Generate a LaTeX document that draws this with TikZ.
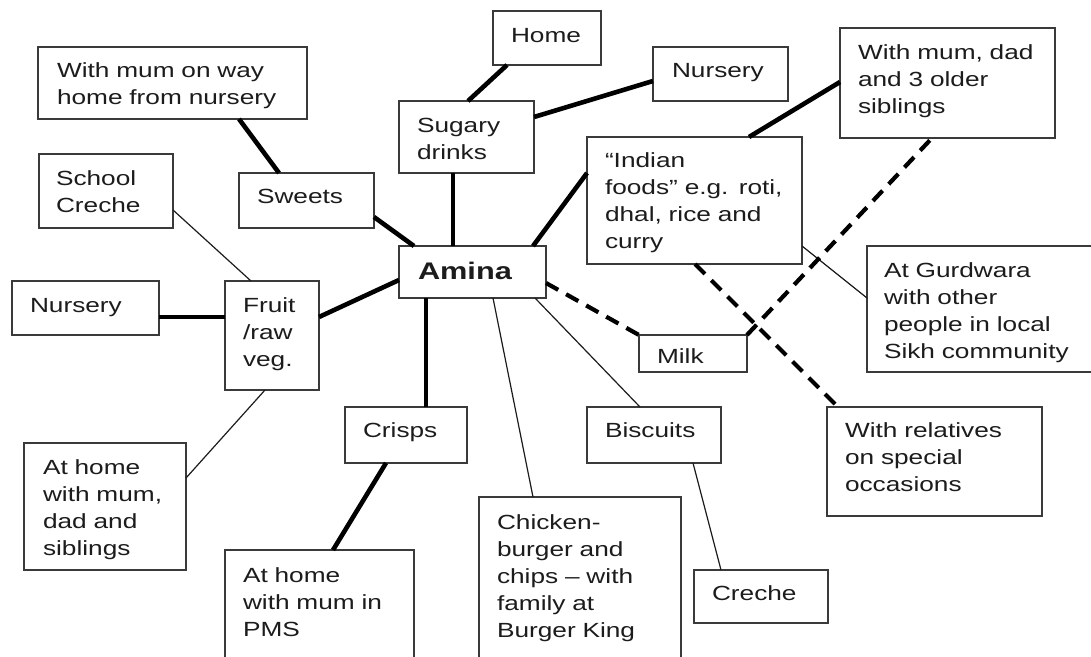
\documentclass[tikz,border=0pt]{standalone}
\usepackage{fontspec}
\setmainfont{Liberation Sans}[FakeStretch=1.28]
\definecolor{ink}{HTML}{1C1C1C}
\definecolor{edge}{HTML}{3A3A3A}
\tikzset{
  boxst/.style={draw=edge, line width=1.7pt, fill=white, rectangle,
    inner sep=0pt, outer sep=0pt},
  txt/.style={anchor=base west, inner sep=0pt, outer sep=0pt, text=ink,
    text width=240pt, align=left,
    font=\fontsize{20.5}{27.2}\selectfont},
  strong/.style={line width=4.6pt, draw=black},
  weak/.style={line width=1.2pt, draw=ink},
  dash link/.style={line width=4.2pt, draw=black, dash pattern=on 14pt off 9pt}
}
% box: name, centre, width, height, left pad, first baseline, text
\newcommand\topicbox[7]{%
  \node[boxst, minimum width=#3pt, minimum height=#4pt] (#1) at #2 {};
  \node[txt] (#1-t) at ([xshift=#5pt, yshift=-#6pt]#1.north west) {#7};
}
\begin{document}
\begin{tikzpicture}[x=1pt, y=-1pt]
\useasboundingbox (0,0) rectangle (1091,656);
\fill[white] (0,0) rectangle (1091,656);

\topicbox{wmum}{(172.5,83)}{269}{72}{19}{30}{With mum on way\\home from nursery}
\topicbox{home}{(547,38)}{108}{54}{18}{31}{Home}
\topicbox{sugary}{(466.5,137)}{135}{72}{18}{31}{Sugary\\drinks}
\topicbox{nursA}{(720.5,74)}{135}{54}{19}{30}{Nursery}
\topicbox{fam}{(947.5,83)}{215}{110}{18}{31}{With mum, dad\\and 3 older\\siblings}
\topicbox{indian}{(694.5,200.5)}{215}{127}{18}{30}{“Indian\\foods” e.g. roti,\\dhal, rice and\\curry}
\topicbox{school}{(106,191)}{134}{74}{17}{31}{School\\Creche}
\topicbox{sweets}{(306.5,200.5)}{135}{55}{18}{30}{Sweets}
\topicbox{nursB}{(85.5,308)}{147}{54}{18}{31}{Nursery}
\topicbox{fruit}{(272,335.5)}{94}{109}{18}{31}{Fruit\\/raw\\veg.}
\topicbox{gurd}{(981,309)}{228}{126}{17}{31}{At Gurdwara\\with other\\people in local\\Sikh community}
\topicbox{milk}{(693,353.5)}{108}{37}{18}{28}{Milk}
\topicbox{athome}{(105,506.5)}{162}{127}{19}{31}{At home\\with mum,\\dad and\\siblings}
\topicbox{crisps}{(406,435)}{122}{56}{18}{30}{Crisps}
\topicbox{biscuits}{(654,435)}{134}{56}{18}{30}{Biscuits}
\topicbox{relatives}{(934.5,461.5)}{215}{109}{18}{30}{With relatives\\on special\\occasions}
\topicbox{chicken}{(580,581)}{202}{168}{18}{32}{Chicken-\\burger and\\chips – with\\family at\\Burger King}
\topicbox{pms}{(319.5,607.5)}{189}{115}{18}{32}{At home\\with mum in\\PMS}
\topicbox{creche}{(761,596.5)}{134}{53}{18}{30}{Creche}

% centre node
\node[boxst, minimum width=147pt, minimum height=52pt] (amina) at (472.5,272) {};
\node[txt, font=\fontsize{24}{28}\selectfont\bfseries] (amina-t)
  at ([xshift=19pt, yshift=-33pt]amina.north west) {Amina};

% strong links
\draw[strong] ([xshift=201pt]wmum.south west) -- ([xshift=40pt]sweets.north west);
\draw[strong] ([xshift=14pt]home.south west) -- ([xshift=69pt]sugary.north west);
\draw[strong] ([yshift=-16pt]sugary.north east) -- ([yshift=-34pt]nursA.north west);
\draw[strong] ([xshift=54pt]sugary.south west) -- ([xshift=54pt]amina.north west);
\draw[strong] ([yshift=-44pt]sweets.north east) -- ([xshift=15pt]amina.north west);
\draw[strong] ([yshift=-34pt]amina.north west) -- ([yshift=-36pt]fruit.north east);
\draw[strong] ([yshift=-36pt]nursB.north east) -- ([yshift=-36pt]fruit.north west);
\draw[strong] ([xshift=27pt]amina.south west) -- ([xshift=81pt]crisps.north west);
\draw[strong] ([xshift=41pt]crisps.south west) -- ([xshift=108pt]pms.north west);
\draw[strong] ([xshift=-13pt]amina.north east) -- ([yshift=-36pt]indian.north west);
\draw[strong] ([xshift=162pt]indian.north west) -- ([yshift=-54pt]fam.north west);

% weak links
\draw[weak] ([yshift=-56pt]school.north east) -- ([xshift=26pt]fruit.north west);
\draw[weak] ([xshift=40pt]fruit.south west) -- ([yshift=-35pt]athome.north east);
\draw[weak] ([xshift=94pt]amina.south west) -- ([xshift=54pt]chicken.north west);
\draw[weak] ([xshift=136pt]amina.south west) -- ([xshift=53pt]biscuits.north west);
\draw[weak] ([xshift=106pt]biscuits.south west) -- ([xshift=27pt]creche.north west);
\draw[weak] ([yshift=-109pt]indian.north east) -- ([yshift=-52pt]gurd.north west);

% occasional links
\draw[dash link] ([yshift=-37pt]amina.north east) -- (milk.north west);
\draw[dash link] (milk.north east) -- ([xshift=92pt]fam.south west);
\draw[dash link] ([xshift=108pt]indian.south west) -- ([xshift=11pt]relatives.north west);
\end{tikzpicture}
\end{document}
